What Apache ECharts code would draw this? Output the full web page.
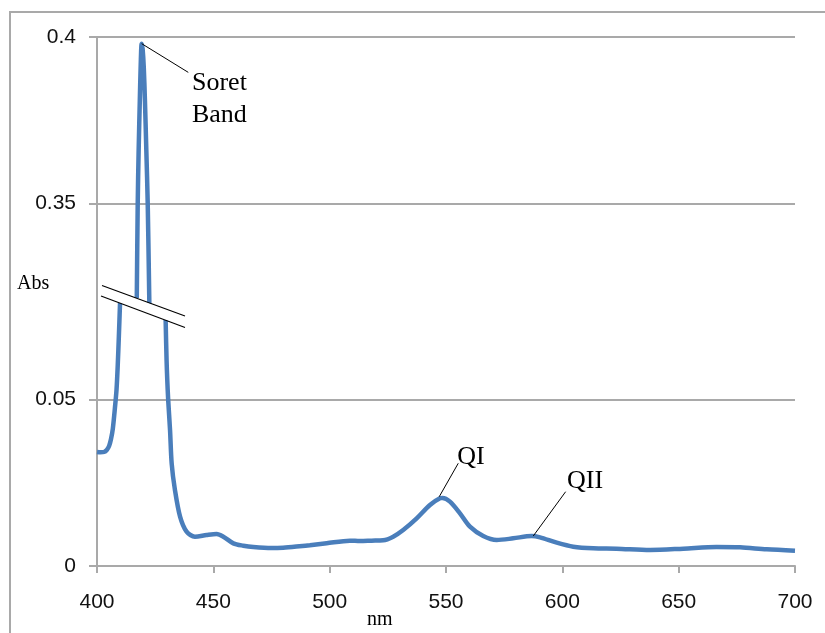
<!DOCTYPE html>
<html><head><meta charset="utf-8">
<script src="https://cdn.jsdelivr.net/npm/echarts@6/dist/echarts.min.js"></script>
<style>html,body{margin:0;padding:0;background:#fff}#c{width:825px;height:633px}</style>
</head><body><div id="c"></div>
<script>
// ---- data ----
const wavelengths = [
  400.0, 401.5, 403.0, 404.2, 405.2, 406.0, 406.8, 407.7, 408.4, 408.9, 409.4, 409.9,
  411.0, 413.0, 415.0, 416.3,
  417.1, 417.5, 417.9, 418.4, 418.8, 419.2, 419.6, 420.1, 420.6, 421.2, 421.8, 422.5,
  424.0, 426.0, 428.0,
  429.5, 429.9, 430.2, 430.6, 431.4, 432.1, 433.5, 435.7, 438.5, 442.1, 447.1, 451.4,
  454.3, 458.6, 462.9, 467.2, 475.0, 480.0, 487.0, 491.5, 498.7, 508.7, 513.0, 518.0,
  523.0, 527.3, 531.6, 537.4, 543.1, 547.4, 548.5, 551.7, 556.0, 560.3, 566.0, 571.8,
  578.9, 586.8, 590.4, 597.6, 604.7, 613.3, 623.3, 637.7, 652.0, 666.3, 676.4, 687.8, 700.0
];
const absorbance = [
  0.0342, 0.0341, 0.0342, 0.0348, 0.0360, 0.0380, 0.0412, 0.0474, 0.0530, 0.0600, 0.0690, 0.0789,
  0.120, 0.190, 0.255, 0.300,
  0.3217, 0.350, 0.366, 0.381, 0.392, 0.398, 0.3965, 0.391, 0.381, 0.366, 0.350, 0.320,
  0.275, 0.190, 0.115,
  0.0738, 0.0618, 0.0558, 0.0498, 0.0407, 0.0307, 0.0228, 0.0148, 0.0103, 0.0088, 0.0093, 0.0096,
  0.0088, 0.0068, 0.0061, 0.0057, 0.0054, 0.0055, 0.0059, 0.0062, 0.0068, 0.0076, 0.0075, 0.0076,
  0.0077, 0.0088, 0.0108, 0.0143, 0.0183, 0.0203, 0.0204, 0.0193, 0.0158, 0.0118, 0.0090, 0.0078,
  0.0083, 0.0090, 0.0086, 0.0070, 0.0058, 0.0053, 0.0052, 0.0048, 0.0052, 0.0057, 0.0056, 0.0050, 0.0046
];
const yTickValues = [0, 0.05, 0.35, 0.4];
const xMin = 400, xMax = 700, xStep = 50;
const annotationLabels = [['Soret', 'Band'], ['QI'], ['QII']];
const annotationWavelengths = [419.2, 547.1, 587.5];
const annotationAbs = [0.398, 0.0208, 0.009];

// ---- axis break (values between low and high are cut out of the axis) ----
const BREAK_LOW = 0.080, BREAK_HIGH = 0.3195, BREAK_SHIFT = 0.2413;
function toDisplay(v) {
  if (v <= BREAK_LOW) return v;
  if (v >= BREAK_HIGH) return v - BREAK_SHIFT;
  return '-';
}
const displayTicks = yTickValues.map(toDisplay);

// ---- layout / style ----
const GRID = {left: 97, right: 30, top: 37, bottom: 67};
const GREY = '#a9a9a9';
const LABEL_FONT = 'Liberation Sans';
const SERIF = 'Liberation Serif';
const annotationLayout = [
  {end: [46.6, 28.7], text: [50.3, 40], lineGap: 31.5},
  {end: [19, -33.4], text: [18, -39.5], lineGap: 31.5},
  {end: [32.4, -44.3], text: [33.7, -54.8], lineGap: 31.5}
];

const chart = echarts.init(document.getElementById('c'), null, {renderer: 'canvas'});
chart.setOption({
  animation: false,
  backgroundColor: '#fff',
  grid: {left: GRID.left, right: GRID.right, top: GRID.top, bottom: GRID.bottom, containLabel: false},
  xAxis: {
    type: 'value', min: xMin, max: xMax, interval: xStep,
    axisLine: {show: true, lineStyle: {color: GREY, width: 2}},
    axisTick: {show: true, inside: false, length: 7, lineStyle: {color: GREY, width: 2}},
    splitLine: {show: false},
    axisLabel: {margin: 26, fontFamily: LABEL_FONT, fontSize: 21, color: '#111'}
  },
  yAxis: {
    type: 'value', min: 0, max: toDisplay(0.4),
    axisLine: {show: true, lineStyle: {color: GREY, width: 2}},
    axisTick: {show: true, inside: false, length: 8, customValues: displayTicks, lineStyle: {color: GREY, width: 2}},
    splitLine: {show: true, lineStyle: {color: GREY, width: 2}},
    axisLabel: {
      margin: 21, fontFamily: LABEL_FONT, fontSize: 21, color: '#111',
      customValues: displayTicks,
      formatter: function (val) {
        const i = displayTicks.findIndex(t => Math.abs(t - val) < 1e-6);
        return i >= 0 ? String(yTickValues[i]) : '';
      }
    }
  },
  series: [{
    type: 'line',
    data: wavelengths.map((w, i) => [w, toDisplay(absorbance[i])]),
    showSymbol: false, smooth: 0.3, connectNulls: false,
    lineStyle: {color: '#4a7ebb', width: 4.5},
    itemStyle: {color: '#4a7ebb'},
    silent: true
  }]
});

// ---- decorations: frame, axis titles, break mark, annotations ----
const g = [];
g.push({type: 'rect', shape: {x: 10, y: 12, width: 900, height: 700}, style: {fill: null, stroke: GREY, lineWidth: 2}, z: 1, silent: true});
g.push({type: 'text', x: 17, y: 284, style: {text: 'Abs', font: '20px "' + SERIF + '"', fill: '#000', verticalAlign: 'middle', align: 'left'}, z: 50});
g.push({type: 'text', x: 367, y: 620, style: {text: 'nm', font: '20px "' + SERIF + '"', fill: '#000', verticalAlign: 'middle', align: 'left'}, z: 50});
// axis-break symbol
g.push({type: 'polygon', shape: {points: [[101, 285.5], [186, 316.5], [186, 327.5], [101, 296]]}, style: {fill: '#fff', stroke: null}, z: 60, silent: true});
g.push({type: 'line', shape: {x1: 102, y1: 285.5, x2: 185, y2: 316}, style: {stroke: '#000', lineWidth: 1.2}, z: 61, silent: true});
g.push({type: 'line', shape: {x1: 101, y1: 296, x2: 185, y2: 327.5}, style: {stroke: '#000', lineWidth: 1.2}, z: 61, silent: true});

annotationLabels.forEach((lines, i) => {
  const p = chart.convertToPixel({gridIndex: 0}, [annotationWavelengths[i], toDisplay(annotationAbs[i])]);
  const L = annotationLayout[i];
  g.push({type: 'line', shape: {x1: p[0], y1: p[1], x2: p[0] + L.end[0], y2: p[1] + L.end[1]}, style: {stroke: '#000', lineWidth: 1}, z: 50, silent: true});
  lines.forEach((t, k) => {
    g.push({type: 'text', x: p[0] + L.text[0], y: p[1] + L.text[1] + k * L.lineGap,
      style: {text: t, font: '26px "' + SERIF + '"', fill: '#000', verticalAlign: 'middle', align: 'left'}, z: 50});
  });
});
chart.setOption({graphic: {elements: g}});
</script>
</body></html>
